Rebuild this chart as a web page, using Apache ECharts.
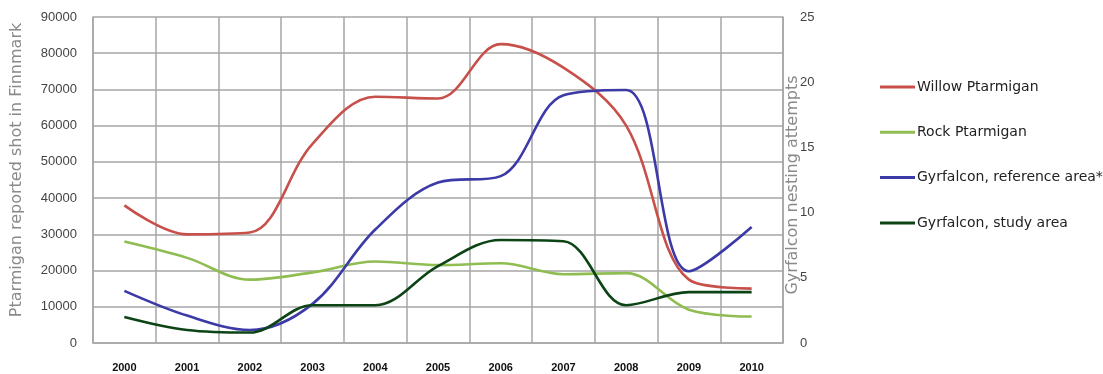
<!DOCTYPE html>
<html><head><meta charset="utf-8">
<script src="https://cdn.jsdelivr.net/npm/echarts@6/dist/echarts.min.js"></script>
<style>html,body{margin:0;padding:0;background:#fff}#c{width:1103px;height:374px}</style>
</head><body><div id="c"></div>
<script>
const years = ['2000','2001','2002','2003','2004','2005','2006','2007','2008','2009','2010'];
const willowPtarmigan = [38000, 30000, 30500, 55000, 68000, 67500, 82500, 76000, 60000, 17500, 15000];
const rockPtarmigan = [28000, 23500, 17500, 19500, 22500, 21500, 22000, 19000, 19300, 9200, 7300];
const gyrReference = [4, 2.1, 1.0, 3.0, 8.7, 12.3, 12.8, 19.0, 19.4, 5.5, 8.9];
const gyrStudy = [2, 1.0, 0.8, 2.9, 2.9, 5.9, 7.9, 7.8, 2.9, 3.9, 3.9];
const leftTicks = {min: 0, max: 90000, interval: 10000};
const rightTicks = {min: 0, max: 25, interval: 5};

const chart = echarts.init(document.getElementById('c'), null, {renderer: 'canvas'});
const gridColor = '#a6a6a6';
const font = '"Liberation Sans", Arial, sans-serif';
const wide = '"DejaVu Sans", sans-serif';
function line(name, data, color, yIdx) {
  return {name, type: 'line', data, yAxisIndex: yIdx, smooth: 0.35, symbol: 'none',
    lineStyle: {color, width: 2.6}, itemStyle: {color}};
}
chart.setOption({
  backgroundColor: '#fff',
  animation: false,
  grid: {left: 93, right: 320, top: 17, bottom: 31},
  legend: {
    orient: 'vertical', left: 875, top: 75, itemGap: 31.3, icon: 'rect',
    itemWidth: 35, itemHeight: 3, itemStyle: {borderWidth: 0},
    textStyle: {fontFamily: wide, fontSize: 14, color: '#222', padding: [0,0,0,-3]},
    data: ['Willow Ptarmigan','Rock Ptarmigan','Gyrfalcon, reference area*','Gyrfalcon, study area']
  },
  xAxis: {
    type: 'category', data: years, boundaryGap: true,
    axisLine: {lineStyle: {color: gridColor, width: 1.5}},
    axisTick: {show: false},
    axisLabel: {fontFamily: font, fontSize: 11, fontWeight: 'bold', color: '#111', margin: 19},
    splitLine: {show: true, lineStyle: {color: gridColor, width: 1.5}}
  },
  yAxis: [{
    type: 'value', min: leftTicks.min, max: leftTicks.max, interval: leftTicks.interval,
    name: 'Ptarmigan reported shot in Finnmark', nameLocation: 'middle', nameGap: 68, nameRotate: 90,
    nameMoveOverlap: false,
    nameTextStyle: {fontFamily: wide, fontSize: 16, color: '#8a8a8a', padding: [0, 0, 0, 20]},
    axisLine: {show: true, lineStyle: {color: gridColor, width: 1.5}},
    axisTick: {show: false},
    axisLabel: {fontFamily: font, fontSize: 13, color: '#444', margin: 16, formatter: v => String(v)},
    splitLine: {show: true, lineStyle: {color: gridColor, width: 1.5}}
  }, {
    type: 'value', position: 'right', min: rightTicks.min, max: rightTicks.max, interval: rightTicks.interval,
    name: 'Gyrfalcon nesting attempts', nameLocation: 'middle', nameGap: 2, nameRotate: 90,
    nameMoveOverlap: false,
    nameTextStyle: {fontFamily: wide, fontSize: 16, color: '#8a8a8a', padding: [0, 10, 0, 0]},
    axisLine: {show: true, lineStyle: {color: gridColor, width: 1.5}},
    axisTick: {show: false},
    axisLabel: {fontFamily: font, fontSize: 13, color: '#444', margin: 17},
    splitLine: {show: false}
  }],
  series: [
    line('Willow Ptarmigan', willowPtarmigan, '#c8504b', 0),
    line('Rock Ptarmigan', rockPtarmigan, '#8fbd52', 0),
    line('Gyrfalcon, reference area*', gyrReference, '#3b3aa6', 1),
    line('Gyrfalcon, study area', gyrStudy, '#0c4416', 1)
  ]
});
</script></body></html>
